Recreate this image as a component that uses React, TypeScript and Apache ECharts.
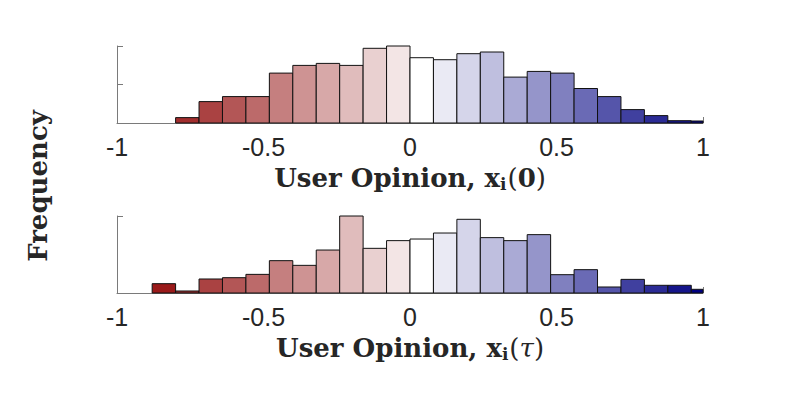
import React, { useEffect, useRef } from "react";
import * as echarts from "echarts";

const binCenters = [-1, -0.92, -0.84, -0.76, -0.68, -0.6, -0.52, -0.44, -0.36, -0.28, -0.2, -0.12, -0.04,
  0.04, 0.12, 0.2, 0.28, 0.36, 0.44, 0.52, 0.6, 0.68, 0.76, 0.84, 0.92, 1.0];

const initialOpinion = [0, 0, 0, 7, 27.8, 34.3, 34.3, 64.8, 74.8, 77.4, 74.8, 97, 100,
  84.8, 82.2, 90, 92.2, 59.6, 67, 64.8, 44.8, 34.3, 17.4, 9.6, 3, 2.6];

const finalOpinion = [0, 0, 12.1, 2.6, 18.2, 19.9, 24.2, 42, 35.9, 55.8, 100, 58, 68,
  70.1, 77.9, 95.7, 71.9, 68, 75.8, 23.8, 30.3, 7.8, 17.7, 10, 10, 4.8];

const binColors = ["#8a0000", "#911010", "#9a1a1a", "#a22e2e", "#aa4242", "#b35656", "#bc6a6a",
  "#c57f7f", "#ce9393", "#d7a8a8", "#e0bcbc", "#e9d0d0", "#f3e5e5", "#ffffff",
  "#eaeaf4", "#d5d5ea", "#bfbfdf", "#aaaad5", "#9595ca", "#8080bf", "#6a6ab5",
  "#5555aa", "#40409f", "#2b2b95", "#15158a", "#000080"];

const xTickLabels: Record<string, string> = { "-1": "-1", "-0.5": "-0.5", "0": "0", "0.5": "0.5", "1": "1" };

const BIN_HALF = 0.04;
const AXIS_COLOR = "#7a7a7a";
const SERIF = "'DejaVu Serif', serif";
const SANS = "'Liberation Sans', Arial, sans-serif";

function renderBin(params: any, api: any) {
  const c = api.value(0);
  const v = api.value(1);
  const idx = api.value(2);
  if (!v) return null;
  const p0 = api.coord([c - BIN_HALF, 0]);
  const p1 = api.coord([c + BIN_HALF, v]);
  const cs = params.coordSys;
  const shape = echarts.graphic.clipRectByRect(
    { x: p0[0], y: p1[1], width: p1[0] - p0[0], height: p0[1] - p1[1] },
    { x: cs.x, y: cs.y - 2, width: cs.width, height: cs.height + 4 }
  );
  if (!shape) return null;
  return {
    type: "rect",
    shape,
    style: { fill: binColors[idx], stroke: "#111", lineWidth: 1 },
  };
}

function makeX(gridIndex: number) {
  return {
    type: "value",
    gridIndex,
    min: -1,
    max: 1,
    interval: 0.5,
    axisLine: { show: true, onZero: false, lineStyle: { color: AXIS_COLOR, width: 1 } },
    axisTick: { show: true, inside: true, length: 6, lineStyle: { color: AXIS_COLOR } },
    splitLine: { show: false },
    axisLabel: {
      margin: 11,
      fontFamily: SANS,
      fontSize: 25,
      color: "#262626",
      formatter: (v: number) => xTickLabels[String(v)] ?? String(v),
    },
  };
}

function makeY(gridIndex: number, interval: number) {
  return {
    type: "value",
    gridIndex,
    min: 0,
    max: 100,
    interval,
    axisLine: { show: true, onZero: false, lineStyle: { color: AXIS_COLOR, width: 1 } },
    axisTick: { show: true, inside: true, length: 6, lineStyle: { color: AXIS_COLOR } },
    splitLine: { show: false },
    axisLabel: { show: false },
  };
}

function titleRich(argItalic: boolean) {
  return {
    m: { fontFamily: SERIF, fontWeight: "bold", fontSize: 26, fill: "#262626" },
    x: { fontFamily: SERIF, fontWeight: "bold", fontSize: 26, fill: "#262626" },
    s: { fontFamily: SERIF, fontWeight: "bold", fontSize: 17, fill: "#262626", padding: [12, 1, 0, 0] },
    p: { fontFamily: SERIF, fontSize: 26, fill: "#262626" },
    a: {
      fontFamily: SERIF,
      fontWeight: argItalic ? "normal" : "bold",
      fontStyle: argItalic ? "italic" : "normal",
      fontSize: 26,
      fill: "#262626",
    },
  };
}

export default function App() {
  const ref = useRef<HTMLDivElement>(null);
  useEffect(() => {
    if (!ref.current) return;
    const chart = echarts.init(ref.current, null, { renderer: "svg" });
    const toData = (vals: number[]) => binCenters.map((c, i) => [c, vals[i], i]);
    chart.setOption({
      animation: false,
      backgroundColor: "#ffffff",
      grid: [
        { left: 117, top: 46, width: 586, height: 77 },
        { left: 117, top: 216, width: 586, height: 77 },
      ],
      xAxis: [makeX(0), makeX(1)],
      yAxis: [makeY(0, 50), makeY(1, 100)],
      series: [
        {
          type: "custom",
          xAxisIndex: 0,
          yAxisIndex: 0,
          renderItem: renderBin,
          encode: { x: 0, y: 1 },
          data: toData(initialOpinion),
          clip: false,
        },
        {
          type: "custom",
          xAxisIndex: 1,
          yAxisIndex: 1,
          renderItem: renderBin,
          encode: { x: 0, y: 1 },
          data: toData(finalOpinion),
          clip: false,
        },
      ],
      graphic: [
        {
          type: "text",
          x: 38,
          y: 186,
          rotation: Math.PI / 2,
          style: {
            text: "Frequency",
            fontFamily: SERIF,
            fontWeight: "bold",
            fontSize: 26,
            fill: "#262626",
            align: "center",
            verticalAlign: "middle",
          },
        },
        {
          type: "text",
          x: 410,
          y: 178,
          style: {
            text: "{m|User Opinion, }{x|x}{s|i}{p|(}{a|0}{p|)}",
            align: "center",
            verticalAlign: "middle",
            rich: titleRich(false),
          },
        },
        {
          type: "text",
          x: 410,
          y: 348,
          style: {
            text: "{m|User Opinion, }{x|x}{s|i}{p|(}{a|τ}{p|)}",
            align: "center",
            verticalAlign: "middle",
            rich: titleRich(true),
          },
        },
      ],
    });
    return () => chart.dispose();
  }, []);
  return (
    <div
      ref={ref}
      style={{ position: "fixed", left: 0, top: 0, width: 793, height: 397, background: "#fff" }}
    />
  );
}
